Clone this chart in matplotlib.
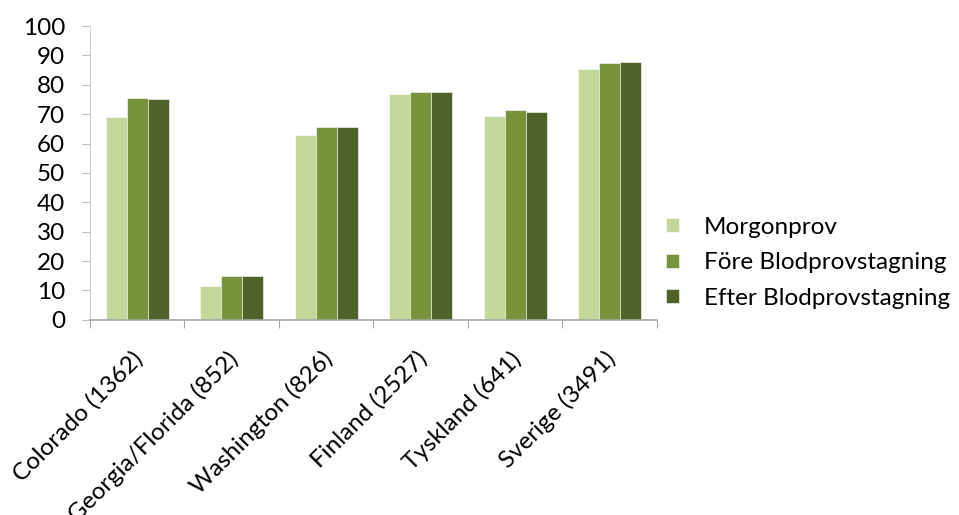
import numpy as np
import matplotlib
from matplotlib import pyplot as plt
from matplotlib.transforms import ScaledTranslation

matplotlib.rcParams.update({'font.size': 17.5, 'font.family': ['Lato', 'DejaVu Sans']})

categories = ['Colorado (1362)', 'Georgia/Florida (852)', 'Washington (826)',
              'Finland (2527)', 'Tyskland (641)', 'Sverige (3491)']
morgonprov = [69, 11.5, 63, 77, 69.5, 85.5]
fore_blod = [75.5, 15, 65.5, 77.5, 71.5, 87.5]
efter_blod = [75, 15, 65.5, 77.7, 70.7, 87.7]
series_names = ['Morgonprov', 'Före Blodprovstagning', 'Efter Blodprovstagning']
colors = ['#C4D79B', '#77933C', '#4F6228']

fig = plt.figure(figsize=(9.59, 5.15), dpi=100)
ax = fig.add_axes([0.0938, 0.379, 0.591, 0.5705])

x = np.arange(len(categories))
w = 1 / 4.5
for i, (vals, name) in enumerate(zip([morgonprov, fore_blod, efter_blod], series_names)):
    ax.bar(x + (i - 1) * w, vals, width=w, color=colors[i], label=name,
           edgecolor='#ffffff', linewidth=0.4)

ax.set_xlim(-0.5, len(categories) - 0.5)
ax.set_ylim(0, 100)
ax.set_yticks(range(0, 101, 10))
ax.tick_params(axis='y', length=6, color='#BFBFBF', pad=12)

ax.set_xticks(np.arange(-0.5, len(categories), 1))
ax.set_xticklabels([])
ax.set_xticks(x, minor=True)
ax.set_xticklabels(categories, minor=True, rotation=45, ha='right', va='top',
                   rotation_mode='anchor')
ax.tick_params(axis='x', which='major', length=6, color='#A6A6A6', direction='out')
ax.tick_params(axis='x', which='minor', length=0, pad=20)
# nudge the slanted labels a bit to the left
for lab in ax.get_xticklabels(minor=True):
    lab.set_transform(lab.get_transform() + ScaledTranslation(-0.05, 0, fig.dpi_scale_trans))

for s in ['top', 'right']:
    ax.spines[s].set_visible(False)
ax.spines['left'].set_color('#D0D0D0')
ax.spines['bottom'].set_color('#A6A6A6')
ax.spines['bottom'].set_linewidth(1.2)

ax.legend(loc='center left', bbox_to_anchor=(1.0, 0.194), frameon=False,
          borderaxespad=0, handlelength=0.5, handleheight=0.5,
          handletextpad=1.05, labelspacing=0.6)

plt.savefig('out.png', dpi=100)
